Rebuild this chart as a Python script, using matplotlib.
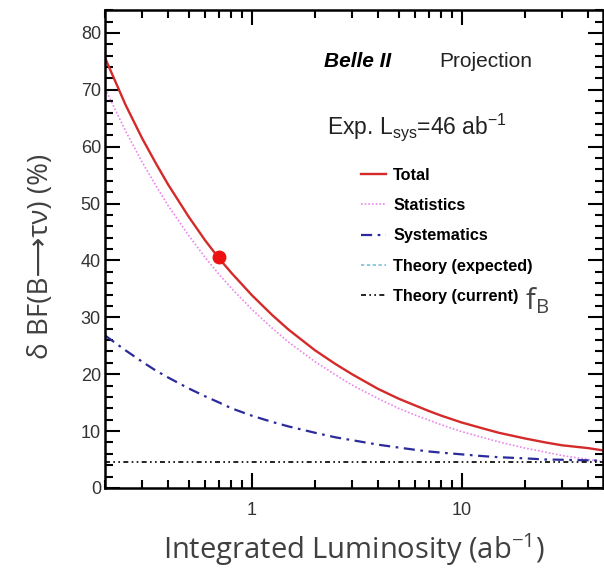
import numpy as np
import matplotlib
matplotlib.use('Agg')
import matplotlib.pyplot as plt
from matplotlib.lines import Line2D
from matplotlib.ticker import LogLocator, FixedLocator, NullFormatter, MultipleLocator

# values
lumi = [0.2, 0.25, 0.3, 0.35, 0.4, 0.5, 0.6, 0.7, 0.8, 1.0, 1.25, 1.5, 2, 2.5, 3,
        4, 5, 6, 7, 8, 10, 12.5, 15, 20, 25, 30, 40, 47]
total = [75.6, 67.4, 61.5, 57.0, 53.3, 47.7, 43.5, 40.3, 37.8, 33.9, 30.4, 27.8,
         24.2, 21.8, 20.0, 17.4, 15.7, 14.5, 13.5, 12.7, 11.5, 10.5, 9.7, 8.7,
         8.0, 7.5, 7.0, 6.6]
statistics = [70.2, 62.8, 57.3, 53.1, 49.6, 44.4, 40.5, 37.5, 35.1, 31.4, 28.1,
              25.6, 22.2, 19.9, 18.1, 15.7, 14.0, 12.8, 11.9, 11.1, 9.9, 8.9, 8.1,
              7.0, 6.3, 5.7, 5.0, 4.6]
systematics = [26.8, 24.2, 22.2, 20.6, 19.4, 17.5, 16.1, 15.0, 14.0, 12.7, 11.6,
               10.8, 9.7, 8.9, 8.4, 7.6, 7.1, 6.7, 6.4, 6.2, 5.9, 5.6, 5.4, 5.2,
               5.0, 4.95, 4.85, 4.8]
theory_current = 4.6
current_lumi = 0.7
current_err = 40.6

red = '#d42a2a'
magenta = '#ec84ec'
blue = '#2a2a9c'
cyan = '#7fc0d8'
sys_dash = (0, (5, 2.5, 1.2, 2.5))
cur_dash = (0, (3, 2, 1, 2, 1, 2))
label_font = ['Open Sans', 'DejaVu Sans']

fig = plt.figure(figsize=(6.04, 5.68), dpi=100)
ax = fig.add_axes([0.174, 0.141, 0.824, 0.841])

ax.plot(lumi, statistics, color=magenta, lw=1.2, linestyle=(0, (1, 1.2)))
ax.plot(lumi, systematics, color=blue, lw=1.6, linestyle=sys_dash)
ax.plot(lumi, [theory_current] * len(lumi), color='black', lw=1.2, linestyle=cur_dash)
ax.plot(lumi, total, color=red, lw=1.7)
ax.plot([current_lumi], [current_err], 'o', color='#ee1111', ms=9)

ax.set_xscale('log')
ax.set_xlim(0.2, 47)
ax.set_ylim(0, 84)

ax.xaxis.set_major_locator(FixedLocator([1, 10]))
ax.xaxis.set_minor_locator(LogLocator(base=10, subs=np.arange(2, 10)))
ax.xaxis.set_minor_formatter(NullFormatter())
ax.set_xticklabels(['1', '10'])
ax.yaxis.set_major_locator(MultipleLocator(10))
ax.yaxis.set_minor_locator(MultipleLocator(2))

for s in ax.spines.values():
    s.set_linewidth(1.8)
ax.tick_params(which='both', direction='in', top=True, right=True, width=1.5,
               labelcolor='#333333', labelsize=13)
ax.tick_params(which='major', length=11)
ax.tick_params(which='minor', length=5.5)
ax.tick_params(axis='x', which='major', pad=10)
ax.tick_params(axis='y', which='major', pad=3)
for lab in ax.get_xticklabels() + ax.get_yticklabels():
    lab.set_family('Liberation Sans')

ax.set_xlabel(r'Integrated Luminosity (ab$^{\mathregular{-1}}$)', fontsize=21,
              color='#404040', family=label_font, labelpad=9)
ax.set_ylabel('δ BF(B⟶τν) (%)', fontsize=20, color='#404040', family=label_font)
ax.yaxis.set_label_coords(-0.1, 0.485)

ax.text(0.44, 0.893, 'Belle II', transform=ax.transAxes, fontsize=15,
        fontweight='bold', fontstyle='italic', family='Liberation Sans', va='center')
ax.text(0.671, 0.893, 'Projection', transform=ax.transAxes, fontsize=15,
        family='Liberation Sans', va='center', color='#222222')
ax.text(0.446, 0.741, r'Exp. L$_{\mathregular{sys}}$=46 ab$^{\mathregular{-1}}$',
        transform=ax.transAxes, fontsize=16.5, family='Liberation Sans',
        va='baseline', color='#222222')

handles = [
    Line2D([], [], color=red, lw=1.7),
    Line2D([], [], color=magenta, lw=1.2, linestyle=(0, (1, 1.2))),
    Line2D([], [], color=blue, lw=1.6, linestyle=sys_dash),
    Line2D([], [], color=cyan, lw=1.2, linestyle=(0, (2, 1.5))),
    Line2D([], [], color='black', lw=1.2, linestyle=cur_dash),
]
labels = ['Total', 'Statistics', 'Systematics', 'Theory (expected)', 'Theory (current)']
leg = ax.legend(handles, labels, loc='upper left', bbox_to_anchor=(0.514, 0.670),
                frameon=False, borderpad=0, borderaxespad=0, handlelength=1.56,
                handletextpad=0.42, labelspacing=0.94,
                prop={'family': 'Liberation Sans', 'weight': 'bold', 'size': 11.7})

ax.text(0.843, 0.392, r'$\mathregular{f_B}$', transform=ax.transAxes, fontsize=21,
        color='#444444', family='Open Sans', va='center')

fig.savefig('out.png', dpi=100)
